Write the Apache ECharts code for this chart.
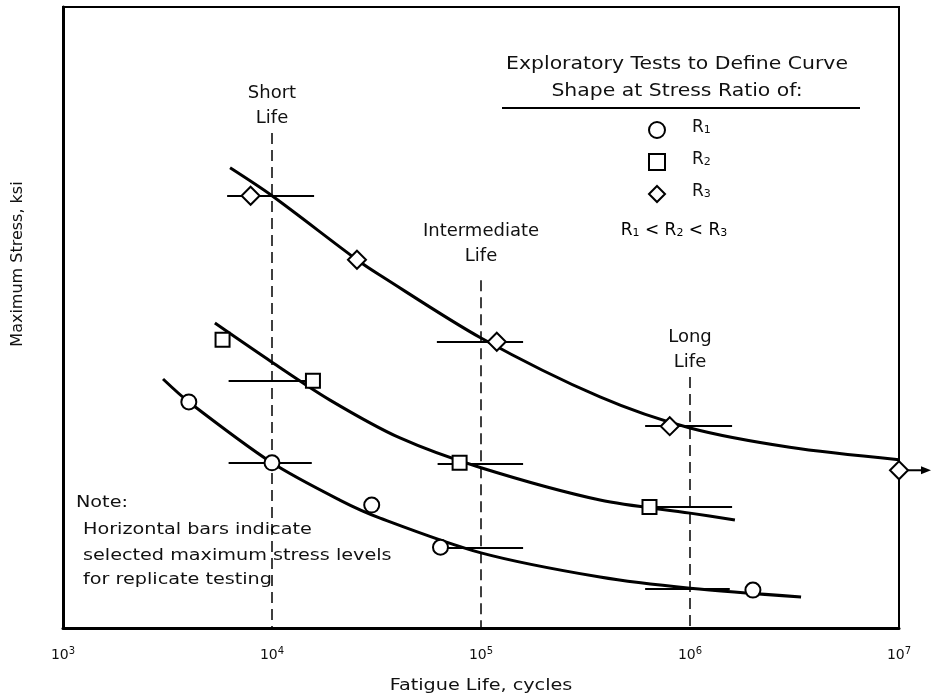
<!DOCTYPE html>
<html>
<head>
<meta charset="utf-8">
<script src="https://cdn.jsdelivr.net/npm/echarts@6/dist/echarts.min.js"></script>
<style>html,body{margin:0;background:#fff}#chart{width:931px;height:700px}</style>
</head>
<body>
<div id="chart"></div>
<script>
var FONT = 'DejaVu Sans';

// test points (cycles, relative stress)
var r1Points = [[4000,36.4],[10000,26.6],[30000,19.8],[64000,13.0],[2000000,6.1]];
var r2Points = [[5800,46.4],[15700,39.8],[79000,26.6],[640000,19.5]];
var r3Points = [[7900,69.6],[25500,59.3],[119000,46.1],[800000,32.5],[10000000,25.4]];

// fitted curves
var r1Curve = [[3010,40.1],[4000,36.4],[10000,26.6],[21100,20.6],[32900,17.7],[100000,12.1],[371000,8.2],[1000000,6.4],[3400000,5.0]];
var r2Curve = [[5330,49.1],[10000,42.8],[18950,36.7],[40970,30.6],[100000,25.8],[371000,20.6],[1000000,18.5],[1640000,17.4]];
var r3Curve = [[6300,74.1],[10000,69.6],[25500,59.3],[32900,56.8],[100000,46.7],[371000,37.2],[1000000,32.2],[3000000,29.1],[10000000,27.1]];

// selected stress levels: [from, to, stress]
var r1Bars = [[6200,15500,26.6],[68700,159000,13.0],[610000,1550000,6.3]];
var r2Bars = [[6200,15700,39.8],[62000,159000,26.4],[680000,1590000,19.5]];
var r3Bars = [[6100,15900,69.6],[61500,159000,46.1],[610000,1590000,32.5]];

// life regions
var lifeX = [10000, 100000, 1000000];
var lifeText = ['Short\nLife', 'Intermediate\nLife', 'Long\nLife'];
var lifeTextY = [84.1, 61.8, 44.8];
var lifeLineTop = [79.7, 56.0, 40.4];

// run-out point (no failure), arrow points right
var runOut = [10000000, 25.4];

var chart = echarts.init(document.getElementById('chart'));

var barLines = [];
[r1Bars, r2Bars, r3Bars].forEach(function(list){
	list.forEach(function(b){
		barLines.push([{coord:[b[0],b[2]]},{coord:[b[1],b[2]]}]);
	});
});
var lifeLines = lifeX.map(function(x, i){
	return [{coord:[x, lifeLineTop[i]]},{coord:[x, 0]}];
});

function curve(data){
	return {
		type:'line', data:data, smooth:0.3, showSymbol:false, symbol:'none',
		lineStyle:{color:'#000', width:3}, z:3, silent:true
	};
}
function points(name, symbol, size, data){
	return {
		name:name, type:'scatter', symbol:symbol, symbolSize:size, data:data,
		itemStyle:{color:'#fff', borderColor:'#000', borderWidth:2, opacity:1}, z:5
	};
}
function wideText(x, y, text, size, extra){
	var el = {type:'text', x:x, y:y, scaleX:1.2, style:{text:text, font:size + 'px "DejaVu Sans"', fill:'#111', textVerticalAlign:'middle'}};
	for (var k in extra) el.style[k] = extra[k];
	return el;
}

var rich = {
	b:{fontFamily:FONT, fontSize:17, color:'#111', padding:[0,0,5,0]},
	s:{fontFamily:FONT, fontSize:11, color:'#111'}
};

var option = {
	animation:false,
	backgroundColor:'#fff',
	grid:{left:63, right:32, top:7, bottom:72, show:true, borderColor:'#000', borderWidth:2},
	xAxis:{
		type:'log', logBase:10, min:1000, max:10000000,
		axisLine:{lineStyle:{color:'#000', width:3}},
		axisTick:{show:false},
		splitLine:{show:false},
		axisLabel:{
			margin:18,
			formatter:function(v){ return '{n|10}{e|' + Math.round(Math.log10(v)) + '}'; },
			rich:{
				n:{fontFamily:FONT, fontSize:14, color:'#111'},
				e:{fontFamily:FONT, fontSize:10, color:'#111', padding:[0,0,9,0]}
			}
		}
	},
	yAxis:{
		type:'value', min:0, max:100,
		axisLine:{show:true, lineStyle:{color:'#000', width:3}},
		axisTick:{show:false}, axisLabel:{show:false}, splitLine:{show:false}
	},
	legend:{
		data:['R1','R2','R3'], orient:'vertical', left:643, top:114,
		itemWidth:16, itemHeight:16, itemGap:12,
		formatter:function(n){ return '{b|R}{s|' + n.slice(1) + '}'; },
		textStyle:{padding:[0,0,0,22], rich:rich}
	},
	graphic:[
		wideText(677, 65, 'Exploratory Tests to Define Curve', 17, {textAlign:'center'}),
		wideText(677, 92, 'Shape at Stress Ratio of:', 17, {textAlign:'center'}),
		{type:'line', shape:{x1:502, y1:108, x2:860, y2:108}, style:{stroke:'#000', lineWidth:2}},
		{type:'text', x:674, y:222, style:{text:'{b|R}{s|1}{b| < R}{s|2}{b| < R}{s|3}', rich:rich, textAlign:'center'}},
		wideText(76, 503, 'Note:', 16),
		wideText(83, 530, 'Horizontal bars indicate', 16),
		wideText(83, 556, 'selected maximum stress levels', 16),
		wideText(83, 580, 'for replicate testing', 16),
		wideText(481, 686, 'Fatigue Life, cycles', 16, {textAlign:'center'}),
		{type:'text', x:18, y:264, rotation:Math.PI/2, style:{text:'Maximum Stress, ksi', font:'16px "DejaVu Sans"', fill:'#111', textAlign:'center', textVerticalAlign:'middle'}}
	],
	series:[
		curve(r1Curve), curve(r2Curve), curve(r3Curve),
		{
			type:'line', data:[], silent:true, z:2,
			markLine:{
				silent:true, symbol:'none', label:{show:false},
				data:barLines, lineStyle:{color:'#000', width:2, type:'solid'}
			}
		},
		{
			type:'line', data:[], silent:true, z:1,
			markLine:{
				silent:true, symbol:'none', label:{show:false},
				data:lifeLines, lineStyle:{color:'#000', width:1.5, type:[11,6]}
			}
		},
		{
			type:'scatter', symbolSize:0, silent:true, itemStyle:{opacity:1},
			data:lifeX.map(function(x, i){ return {value:[x, lifeTextY[i]], name:lifeText[i]}; }),
			label:{show:true, position:'inside', formatter:'{b}', fontFamily:FONT, fontSize:18, color:'#111', lineHeight:25, align:'center'}
		},
		points('R1', 'circle', 15, r1Points),
		points('R2', 'rect', 14, r2Points),
		points('R3', 'diamond', 18, r3Points)
	]
};
chart.setOption(option);

// run-out arrow, placed from the axis scale
var p = chart.convertToPixel({gridIndex:0}, runOut);
chart.setOption({graphic:[
	{id:'runOutLine', type:'line', z:1, shape:{x1:p[0], y1:p[1], x2:p[0]+24, y2:p[1]}, style:{stroke:'#000', lineWidth:2}},
	{id:'runOutHead', type:'polygon', z:1, shape:{points:[[p[0]+22,p[1]-4],[p[0]+32,p[1]],[p[0]+22,p[1]+4]]}, style:{fill:'#000'}}
]});
</script>
</body>
</html>
